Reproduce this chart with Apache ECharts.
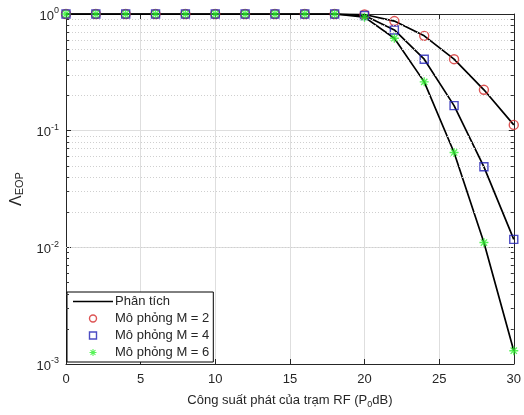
<!DOCTYPE html>
<html><head><meta charset="utf-8">
<script src="https://cdn.jsdelivr.net/npm/echarts@6/dist/echarts.min.js"></script>
<style>html,body{margin:0;padding:0;background:#fff}#c{width:524px;height:415px}</style>
</head><body><div id="c"></div>
<script>
const powerDb = [0,2,4,6,8,10,12,14,16,18,20,22,24,26,28,30];
const analysisM2 = [1,1,1,1,1,1,1,1,1,1,0.99,0.87,0.65,0.41,0.224,0.112];
const analysisM4 = [1,1,1,1,1,1,1,1,1,1,0.97,0.73,0.41,0.164,0.049,0.0117];
const analysisM6 = [1,1,1,1,1,1,1,1,1,1,0.94,0.62,0.262,0.065,0.011,0.0013];
const simM2 = [1,1,1,1,1,1,1,1,1,1,0.99,0.87,0.65,0.41,0.224,0.112];
const simM4 = [1,1,1,1,1,1,1,1,1,1,0.97,0.73,0.41,0.164,0.049,0.0117];
const simM6 = [1,1,1,1,1,1,1,1,1,1,0.94,0.62,0.262,0.065,0.011,0.0013];
const xTicks = [0,5,10,15,20,25,30];
const yDecades = [0.001,0.01,0.1,1];
const minorGrid = [0.002,0.003,0.004,0.005,0.006,0.007,0.008,0.009,0.02,0.03,0.04,0.05,0.06,0.07,0.08,0.09,0.2,0.3,0.4,0.5,0.6,0.7,0.8,0.9];
const legendNames = ['Phân tích','Mô phỏng M = 2','Mô phỏng M = 4','Mô phỏng M = 6'];

const pairs = (ys) => powerDb.map((x,i)=>[x,ys[i]]);
const FONT = 'Liberation Sans, Arial, sans-serif';
const TXT = '#262626';
const asterisk = 'path://M0 8.5L20 8.5L20 11.5L0 11.5Z M8.5 0L11.5 0L11.5 20L8.5 20Z M4.06 1.94L18.06 15.94L15.94 18.06L1.94 4.06Z M18.06 4.06L4.06 18.06L1.94 15.94L15.94 1.94Z';

const chart = echarts.init(document.getElementById('c'), null, {renderer:'canvas'});
const lineSeries = (data) => ({
  name: legendNames[0], type:'line', data: pairs(data), symbol:'none', showSymbol:false,
  lineStyle:{color:'#000', width:1.7}, itemStyle:{color:'#000'}, z:2, silent:true, animation:false
});
const minorLines = {
  silent:true, symbol:['none','none'], label:{show:false},
  lineStyle:{color:'#cfcfcf', type:[1,2], width:1},
  data: minorGrid.map(v=>({yAxis:v}))
};
const minorTicks = {
  silent:true, symbol:['none','none'], label:{show:false},
  lineStyle:{color:'#333', type:'solid', width:1},
  data: minorGrid.flatMap(v=>[
    [{coord:[0,v]},{coord:[0.2,v]}],
    [{coord:[29.8,v]},{coord:[30,v]}]
  ])
};
const s1 = lineSeries(analysisM2); s1.markLine = minorLines;
const s2 = lineSeries(analysisM4); s2.markLine = minorTicks;
chart.setOption({
  animation:false,
  backgroundColor:'#fff',
  textStyle:{fontFamily:FONT},
  grid:{left:66, right:8, top:14, bottom:51, containLabel:false},
  legend:{
    orient:'vertical', left:67, top:292,
    data:[
      {name:legendNames[0], icon:'path://M0 0L40 0L40 1.7L0 1.7Z', itemStyle:{color:'#000'}},
      {name:legendNames[1], icon:'circle', itemStyle:{color:'rgba(0,0,0,0)', borderColor:'#d42a2a', borderWidth:1.4}},
      {name:legendNames[2], icon:'path://M0 0L10 0L10 10L0 10Z', itemStyle:{color:'rgba(0,0,0,0)', borderColor:'#1f1fb4', borderWidth:1.4}},
      {name:legendNames[3], icon:asterisk, itemStyle:{color:'#2ef02e'}}
    ],
    backgroundColor:'#fff', borderColor:'#000', borderWidth:1, borderRadius:0,
    padding:[3,4,3,6], itemGap:4, itemWidth:40, itemHeight:7,
    textStyle:{fontFamily:FONT, fontSize:13, color:TXT, padding:[0,0,0,-3]},
    selectedMode:false
  },
  xAxis:[{
    type:'value', min:0, max:30, interval:5, position:'bottom',
    axisLine:{show:true, onZero:false, lineStyle:{color:'#262626', width:1}},
    axisTick:{show:true, inside:true, length:5, lineStyle:{color:'#262626'}},
    axisLabel:{fontSize:13, color:TXT, margin:9, fontFamily:FONT},
    splitLine:{show:true, lineStyle:{color:'#dedede', width:1}},
    name:'Công suất phát của trạm RF (P{sub|0}dB)', nameLocation:'middle', nameGap:28,
    nameTextStyle:{fontSize:13, color:TXT, fontFamily:FONT,
      rich:{sub:{fontSize:9, color:TXT, padding:[8,0,0,0], fontFamily:FONT}}}
  },{
    type:'value', min:0, max:30, interval:5, position:'top',
    axisLine:{show:true, onZero:false, lineStyle:{color:'#262626', width:1}},
    axisTick:{show:true, inside:true, length:5, lineStyle:{color:'#262626'}},
    axisLabel:{show:false}, splitLine:{show:false}
  }],
  yAxis:[{
    type:'log', logBase:10, min:0.001, max:1, interval:1, position:'left',
    axisLine:{show:true, onZero:false, lineStyle:{color:'#262626', width:1}},
    axisTick:{show:true, inside:true, length:5, lineStyle:{color:'#262626'}},
    axisLabel:{
      margin:7, color:TXT, fontFamily:FONT,
      formatter:(v)=>'{b|10}{s|'+Math.round(Math.log10(v))+'}',
      rich:{b:{fontSize:13, color:TXT, fontFamily:FONT, padding:[4,0,0,0]},
            s:{fontSize:9, color:TXT, fontFamily:FONT, padding:[0,0,6,0]}}
    },
    splitLine:{show:true, lineStyle:{color:'#dedede', width:1}},
    name:'Λ{sub|EOP}', nameLocation:'middle', nameGap:33, nameRotate:90,
    nameTextStyle:{fontSize:16, color:TXT, fontFamily:FONT,
      rich:{sub:{fontSize:11, color:TXT, fontFamily:FONT, padding:[8,0,0,0]}}}
  },{
    type:'log', logBase:10, min:0.001, max:1, interval:1, position:'right',
    axisLine:{show:true, onZero:false, lineStyle:{color:'#262626', width:1}},
    axisTick:{show:true, inside:true, length:5, lineStyle:{color:'#262626'}},
    axisLabel:{show:false}, splitLine:{show:false}
  }],
  series:[
    s1, s2, lineSeries(analysisM6),
    {name:legendNames[1], type:'scatter', data:pairs(simM2), symbol:'circle', symbolSize:9,
     itemStyle:{color:'rgba(0,0,0,0)', borderColor:'#d42a2a', borderWidth:1.4}, z:3, animation:false},
    {name:legendNames[2], type:'scatter', data:pairs(simM4), symbol:'rect', symbolSize:8,
     itemStyle:{color:'rgba(0,0,0,0)', borderColor:'#1f1fb4', borderWidth:1.4}, z:4, animation:false},
    {name:legendNames[3], type:'scatter', data:pairs(simM6), symbol:asterisk, symbolSize:9,
     itemStyle:{color:'#2ef02e'}, z:5, animation:false}
  ]
});
</script></body></html>
